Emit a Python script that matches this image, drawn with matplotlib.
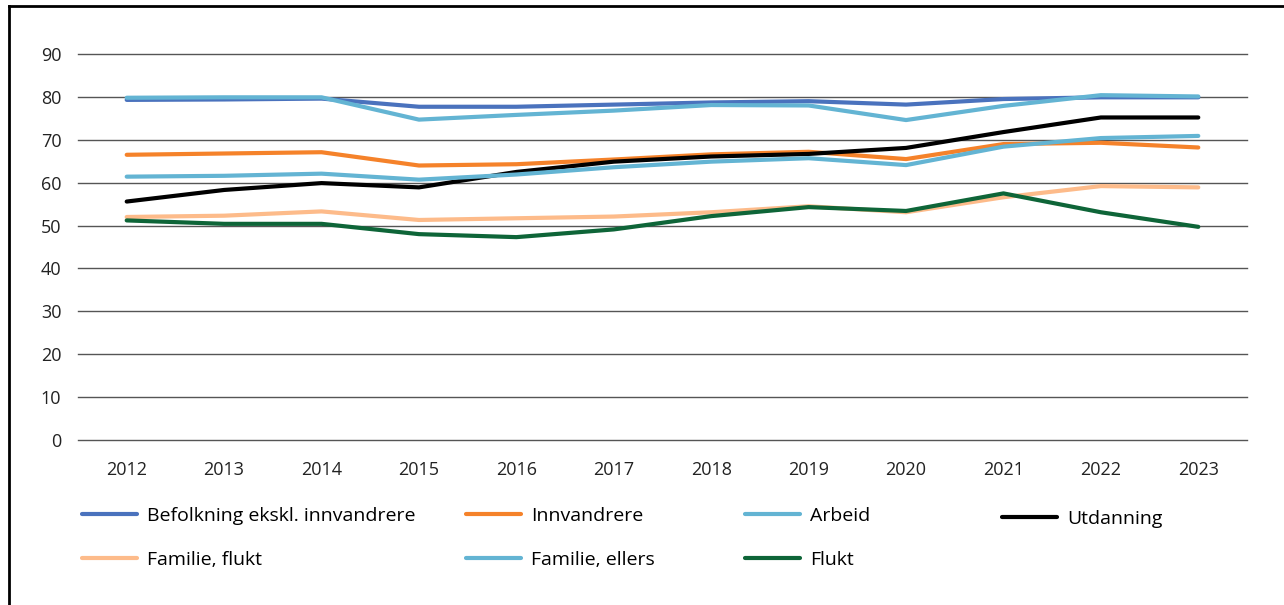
import matplotlib.pyplot as plt
import numpy as np

plt.rcParams['font.family'] = ['Open Sans', 'DejaVu Sans']

years = [2012, 2013, 2014, 2015, 2016, 2017, 2018, 2019, 2020, 2021, 2022, 2023]

befolkning = [79.3, 79.4, 79.6, 77.7, 77.7, 78.2, 78.7, 79.0, 78.2, 79.5, 79.9, 79.9]
innvandrere = [66.5, 66.8, 67.1, 64.0, 64.3, 65.4, 66.6, 67.2, 65.5, 69.0, 69.3, 68.2]
arbeid = [79.8, 79.9, 79.9, 74.7, 75.8, 76.8, 78.1, 78.0, 74.6, 77.9, 80.4, 80.1]
utdanning = [55.6, 58.3, 59.9, 58.9, 62.5, 64.9, 66.1, 66.7, 68.1, 71.8, 75.2, 75.2]
familie_flukt = [52.0, 52.3, 53.3, 51.3, 51.7, 52.1, 53.1, 54.5, 53.1, 56.6, 59.2, 58.9]
familie_ellers = [61.4, 61.6, 62.1, 60.7, 61.9, 63.6, 64.9, 65.7, 64.1, 68.4, 70.4, 70.9]
flukt = [51.2, 50.4, 50.4, 48.0, 47.3, 49.1, 52.2, 54.3, 53.4, 57.5, 53.1, 49.7]

series = [
    ("Befolkning ekskl. innvandrere", befolkning, "#4a72bd"),
    ("Innvandrere", innvandrere, "#f5822a"),
    ("Arbeid", arbeid, "#63b4d3"),
    ("Utdanning", utdanning, "#000000"),
    ("Familie, flukt", familie_flukt, "#fdbb8a"),
    ("Familie, ellers", familie_ellers, "#63b4d3"),
    ("Flukt", flukt, "#0e6538"),
]

fig = plt.figure(figsize=(12.84, 6.05), dpi=100)
ax = fig.add_axes([78 / 1284, 1 - 440 / 605, (1247 - 78) / 1284, (440 - 54) / 605])

x = np.arange(len(years))
handles = []
for name, vals, col in series:
    ln, = ax.plot(x, vals, color=col, lw=3, solid_capstyle='round', label=name)
    handles.append(ln)

ax.set_xlim(-0.5, len(years) - 0.5)
ax.set_ylim(0, 90)
ax.set_yticks(range(0, 91, 10))
ax.set_xticks(x)
ax.set_xticklabels([str(y) for y in years])
ax.grid(axis='y', color='#555555', lw=1)
for gl in ax.get_ygridlines():
    gl.set_clip_on(False)
ax.set_axisbelow(True)
for s in ax.spines.values():
    s.set_visible(False)
ax.tick_params(axis='both', length=0, labelsize=13, colors='#222222')
ax.tick_params(axis='y', pad=12)
ax.tick_params(axis='x', pad=15)

# legend entries placed one by one (uneven spacing in the original)
pos = [(82, 516), (466, 516), (745, 516), (1002, 519),
       (82, 560), (466, 560), (745, 560)]
for h, (px, py) in zip(handles, pos):
    fig.legend([h], [h.get_label()], loc='center left',
               bbox_to_anchor=(px / 1284, 1 - py / 605), frameon=False,
               borderpad=0, borderaxespad=0, handlelength=2.85,
               handletextpad=0.5, fontsize=14)

# frame lines (left and top)
fig.add_artist(plt.Line2D([9 / 1284, 9 / 1284], [0, 1 - 6 / 605], color='black', lw=2))
fig.add_artist(plt.Line2D([9 / 1284, 1], [1 - 6 / 605, 1 - 6 / 605], color='black', lw=2))

fig.savefig('out.png', dpi=100)
